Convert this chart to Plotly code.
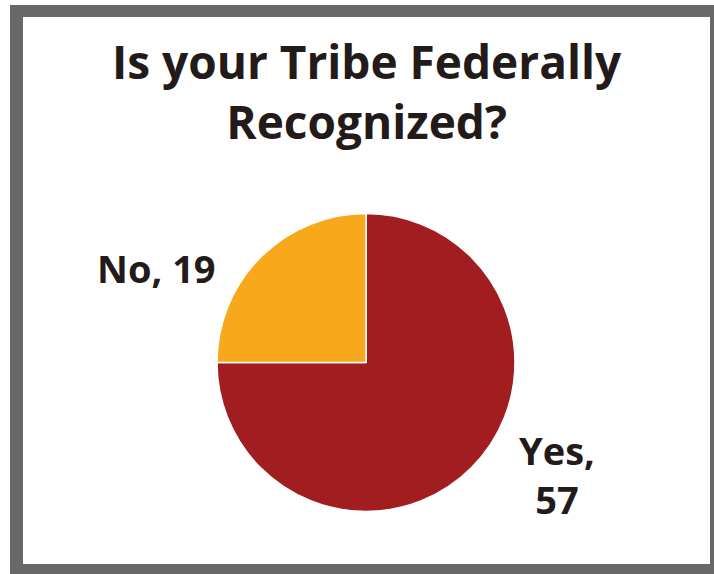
import plotly.graph_objects as go

labels = ["Yes", "No"]
values = [57, 19]
colors = ["#A11D1F", "#F7A91B"]
title_text = "Is your Tribe Federally<br>Recognized?"

W, H = 714, 574
def px(x): return x / W
def py(y): return 1 - y / H

fig = go.Figure()
fig.add_trace(go.Pie(
    labels=labels, values=values, sort=False, direction="clockwise", rotation=0,
    marker=dict(colors=colors, line=dict(color="white", width=1.5)),
    textinfo="none", hoverinfo="label+value", showlegend=False,
    domain=dict(x=[px(217), px(515)], y=[py(512), py(213)]),
))

font = dict(family="Open Sans", color="#231A1A", size=38, weight=700)
anns = [
    dict(text=title_text, x=px(367), y=py(91), xanchor="center", yanchor="middle",
         font=dict(family="Open Sans", color="#231A1A", size=46, weight=700)),
    dict(text=f"{labels[1]}, {values[1]}", x=px(156), y=py(268), xanchor="center", yanchor="middle", font=font),
    dict(text=f"{labels[0]},<br>{values[0]}", x=px(557), y=py(474), xanchor="center", yanchor="middle", font=font),
]
for a in anns:
    a.update(xref="paper", yref="paper", showarrow=False)

fig.update_layout(
    width=W, height=H, margin=dict(l=0, r=0, t=0, b=0),
    paper_bgcolor="white", plot_bgcolor="white",
    annotations=anns,
    shapes=[
        dict(type="rect", xref="paper", yref="paper", x0=px(10), x1=px(730), y0=py(590), y1=py(5),
             fillcolor="#686868", line=dict(width=0), layer="below"),
        dict(type="rect", xref="paper", yref="paper", x0=px(23), x1=px(710), y0=py(564), y1=py(17),
             fillcolor="white", line=dict(width=0), layer="below"),
    ],
)
fig.write_html("out.html", config={"displayModeBar": False},
               post_script="document.body.style.margin='0';document.body.style.overflow='hidden';")
